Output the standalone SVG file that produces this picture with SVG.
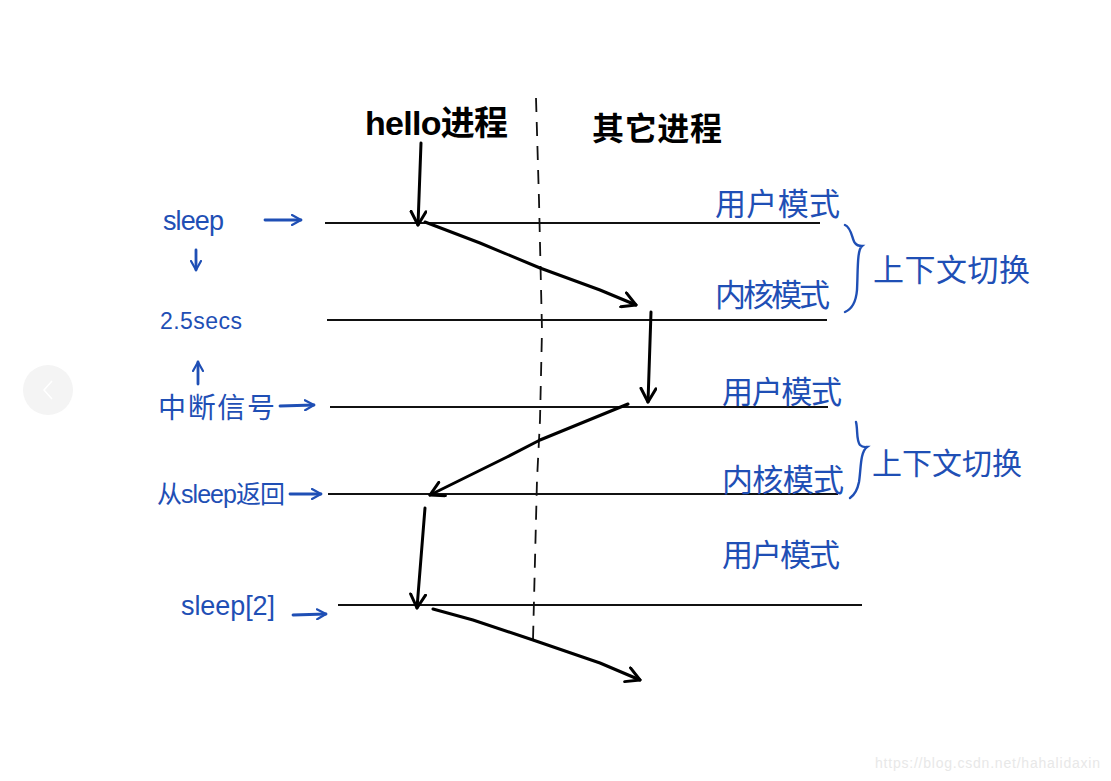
<svg xmlns="http://www.w3.org/2000/svg" width="1111" height="781" viewBox="0 0 1111 781">
<style>
.bg{fill:#fff}
.lane{stroke:#111;stroke-width:2;fill:none}
.flow{stroke:#000;stroke-width:3;fill:none;stroke-linecap:round;stroke-linejoin:round}
.div{stroke:#111;stroke-width:1.8;fill:none;stroke-dasharray:14 10}
.bl{stroke:#1f4fb5;stroke-width:2.8;fill:none;stroke-linecap:round}
.head{font-family:"Liberation Sans","Noto Sans CJK SC",sans-serif;fill:#000;font-weight:bold}
.lbl{font-family:"Liberation Sans","Noto Sans CJK SC",sans-serif;fill:#1f4fb5}
.brace{stroke:#1f4fb5;stroke-width:2.4;fill:none;stroke-linecap:round}
</style>
<defs>
<marker id="ah" viewBox="0 0 12 12" refX="10" refY="6" markerWidth="18" markerHeight="18" markerUnits="userSpaceOnUse" orient="auto">
<path d="M1,1 L10,6 L1,11" fill="none" stroke="#000" stroke-width="2" stroke-linecap="round" stroke-linejoin="round"/>
</marker>
<marker id="bh" viewBox="0 0 12 12" refX="10" refY="6" markerWidth="12" markerHeight="12" markerUnits="userSpaceOnUse" orient="auto">
<path d="M1,1 L10,6 L1,11" fill="none" stroke="#1f4fb5" stroke-width="2.2" stroke-linecap="round" stroke-linejoin="round"/>
</marker>
</defs>
<rect class="bg" x="0" y="0" width="1111" height="781"/>

<g id="nav">
<circle cx="48" cy="390" r="25" fill="#f4f4f4"/>
<path d="M52,381 L44,390 L52,399" fill="none" stroke="#fff" stroke-width="1.5"/>
</g>

<g id="lanes">
<line class="lane" x1="325" y1="223" x2="820" y2="223"/>
<line class="lane" x1="327" y1="320" x2="827" y2="320"/>
<line class="lane" x1="330" y1="407" x2="828" y2="407"/>
<line class="lane" x1="328" y1="494" x2="838" y2="494"/>
<line class="lane" x1="338" y1="605" x2="862" y2="605"/>
<path class="div" d="M536,98 L539,200 L542,330 L540,420 L537,480 L533,640"/>
</g>

<g id="header-hello"><text class="head" x="365" y="135" font-size="34" textLength="143">hello进程</text></g>
<g id="header-other"><text class="head" x="592" y="140" font-size="32" textLength="130">其它进程</text></g>

<g id="left-sleep"><text class="lbl" x="163" y="230" font-size="27" textLength="61">sleep</text></g>
<g id="left-secs"><text class="lbl" x="160" y="329" font-size="23" textLength="82">2.5secs</text></g>
<g id="left-signal"><text class="lbl" x="158" y="418" font-size="28" textLength="117">中断信号</text></g>
<g id="left-return"><text class="lbl" x="157" y="503" font-size="25" textLength="128">从sleep返回</text></g>
<g id="left-sleep2"><text class="lbl" x="181" y="615" font-size="27" textLength="94">sleep[2]</text></g>

<g id="mode-user1"><text class="lbl" x="715" y="215" font-size="31" textLength="125">用户模式</text></g>
<g id="mode-kernel1"><text class="lbl" x="715" y="306" font-size="31" textLength="115">内核模式</text></g>
<g id="ctx1">
<path class="brace" d="M845,225 C852,228 852,240 855,243 C857,246 860,246 862,246 C857,250 858,270 857,290 C856,302 852,309 845,312"/>
<text class="lbl" x="873" y="281" font-size="31" textLength="157">上下文切换</text>
</g>
<g id="mode-user2"><text class="lbl" x="722" y="403" font-size="31" textLength="120">用户模式</text></g>
<g id="mode-kernel2"><text class="lbl" x="722" y="491" font-size="31" textLength="122">内核模式</text></g>
<g id="ctx2">
<path class="brace" d="M856,422 C858,430 856,440 860,445 C863,448 866,447 867,447 C860,452 861,470 859,482 C857,492 853,496 850,498"/>
<text class="lbl" x="872" y="474" font-size="30" textLength="150">上下文切换</text>
</g>
<g id="mode-user3"><text class="lbl" x="722" y="566" font-size="31" textLength="118">用户模式</text></g>

<g id="connectors">
<path class="flow" d="M421,143 L418,225" marker-end="url(#ah)"/>
<path class="flow" d="M425,222 L480,243 L540,268 L600,290 L636,305" marker-end="url(#ah)"/>
<path class="flow" d="M651,312 L648,402" marker-end="url(#ah)"/>
<path class="flow" d="M628,404 L540,440 L507,457 L430,495" marker-end="url(#ah)"/>
<path class="flow" d="M425,508 L417,608" marker-end="url(#ah)"/>
<path class="flow" d="M433,609 L473,620 L533,640 L600,663 L640,680" marker-end="url(#ah)"/>
<path class="bl" d="M265,220 L301,220" marker-end="url(#bh)"/>
<path class="bl" d="M196,250 L196,270" marker-end="url(#bh)"/>
<path class="bl" d="M198,384 L198,362" marker-end="url(#bh)"/>
<path class="bl" d="M280,406 L314,405" marker-end="url(#bh)"/>
<path class="bl" d="M290,494 L321,494" marker-end="url(#bh)"/>
<path class="bl" d="M293,615 L326,614" marker-end="url(#bh)"/>
</g>

<g id="watermark"><text x="875" y="768" font-family="Liberation Sans,sans-serif" font-size="14" fill="#e8e8e8" textLength="225">https://blog.csdn.net/hahalidaxin</text></g>
</svg>
